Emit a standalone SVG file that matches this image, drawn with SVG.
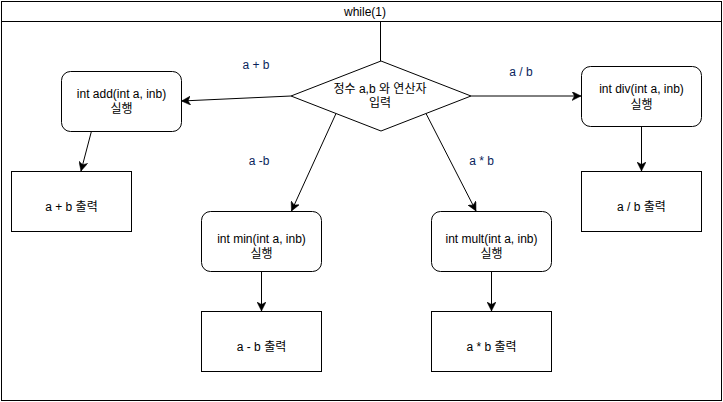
<svg xmlns="http://www.w3.org/2000/svg" width="723" height="402" viewBox="0 0 723 402">
<style>
.shape{fill:#ffffff;stroke:#000000;stroke-width:1}
.t{font-family:"Liberation Sans","Noto Sans CJK KR",sans-serif;font-size:12px;fill:#000000;text-anchor:middle}
.lbl{font-family:"Liberation Sans","Noto Sans CJK KR",sans-serif;font-size:12px;fill:#0a1f5c;text-anchor:middle}
.edge{fill:none;stroke:#000000;stroke-width:1}
</style>
<defs>
<marker id="arr" markerUnits="userSpaceOnUse" markerWidth="10" markerHeight="9" refX="9" refY="4.5" orient="auto">
<path d="M0,0 L9,4.5 L0,9 L2.5,4.5 Z" fill="#000000" stroke="#000000" stroke-width="0.5"/>
</marker>
</defs>
<rect x="0" y="0" width="723" height="402" fill="#ffffff"/>
<g id="while-container">
<rect class="shape" x="1.5" y="1.5" width="720" height="399"/>
<line class="edge" x1="1.5" y1="21.5" x2="721.5" y2="21.5"/>
<text class="t" x="365" y="16">while(1)</text>
</g>
<g id="connectors">
<line class="edge" x1="380.5" y1="21.5" x2="380.5" y2="61"/>
<line class="edge" x1="291" y1="96" x2="181.5" y2="101" marker-end="url(#arr)"/>
<line class="edge" x1="471" y1="96" x2="581" y2="96" marker-end="url(#arr)"/>
<line class="edge" x1="336" y1="113.5" x2="291.5" y2="211" marker-end="url(#arr)"/>
<line class="edge" x1="426" y1="113.5" x2="476" y2="211" marker-end="url(#arr)"/>
<line class="edge" x1="91.5" y1="131" x2="81" y2="171" marker-end="url(#arr)"/>
<line class="edge" x1="261.5" y1="271" x2="261.5" y2="311" marker-end="url(#arr)"/>
<line class="edge" x1="491.5" y1="271" x2="491.5" y2="311" marker-end="url(#arr)"/>
<line class="edge" x1="641.5" y1="126" x2="641.5" y2="171" marker-end="url(#arr)"/>
<text class="lbl" x="256" y="69">a + b</text>
<text class="lbl" x="521" y="76">a / b</text>
<text class="lbl" x="259" y="165">a -b</text>
<text class="lbl" x="481.5" y="165">a * b</text>
</g>
<g id="input-decision">
<polygon class="shape" points="381,61 471,96 381,131 291,96"/>
<text class="t" x="380" y="93">정수 a,b 와 연산자</text>
<text class="t" x="380" y="107">입력</text>
</g>
<g id="add-node">
<rect class="shape" x="61.5" y="71.5" width="120" height="60" rx="9" ry="9"/>
<text class="t" x="121.5" y="98">int add(int a, inb)</text>
<text class="t" x="121.5" y="113">실행</text>
</g>
<g id="add-output">
<rect class="shape" x="11.5" y="171.5" width="120" height="60"/>
<text class="t" x="71.5" y="211">a + b 출력</text>
</g>
<g id="min-node">
<rect class="shape" x="201.5" y="211.5" width="120" height="60" rx="9" ry="9"/>
<text class="t" x="261.5" y="243">int min(int a, inb)</text>
<text class="t" x="261.5" y="258">실행</text>
</g>
<g id="min-output">
<rect class="shape" x="201.5" y="311.5" width="120" height="60"/>
<text class="t" x="261.5" y="351">a - b 출력</text>
</g>
<g id="mult-node">
<rect class="shape" x="431.5" y="211.5" width="120" height="60" rx="9" ry="9"/>
<text class="t" x="491.5" y="243">int mult(int a, inb)</text>
<text class="t" x="491.5" y="258">실행</text>
</g>
<g id="mult-output">
<rect class="shape" x="431.5" y="311.5" width="120" height="60"/>
<text class="t" x="491.5" y="351">a * b 출력</text>
</g>
<g id="div-node">
<rect class="shape" x="581.5" y="66.5" width="120" height="60" rx="9" ry="9"/>
<text class="t" x="641.5" y="93">int div(int a, inb)</text>
<text class="t" x="641.5" y="109">실행</text>
</g>
<g id="div-output">
<rect class="shape" x="581.5" y="171.5" width="120" height="60"/>
<text class="t" x="641.5" y="211">a / b 출력</text>
</g>
</svg>
